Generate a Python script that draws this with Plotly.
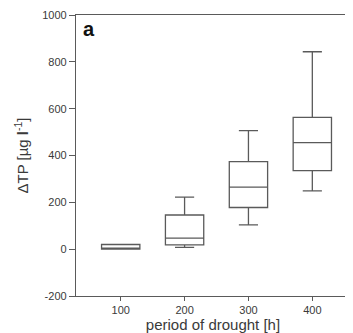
import plotly.graph_objects as go

periods = [100, 200, 300, 400]
lower_whisker = [0, 8, 104, 249]
q1_vals = [0, 18, 178, 335]
medians = [0, 47, 265, 455]
q3_vals = [20, 146, 374, 563]
upper_whisker = [20, 222, 506, 843]

y_ticks = [-200, 0, 200, 400, 600, 800, 1000]
x_ticks = [100, 200, 300, 400]

line_col = "#5a5a5a"
text_col = "#3a3a3a"
font_family = "Liberation Sans, Arial, sans-serif"

fig = go.Figure()
fig.add_trace(go.Box(
    x=periods,
    q1=q1_vals,
    median=medians,
    q3=q3_vals,
    lowerfence=lower_whisker,
    upperfence=upper_whisker,
    width=60,
    whiskerwidth=0.5,
    fillcolor="rgba(255,255,255,0)",
    line=dict(color=line_col, width=1.3),
    boxpoints=False,
    showlegend=False,
    hoverinfo="skip",
))

fig.add_annotation(
    x=0.02, y=0.95, xref="paper", yref="paper",
    text="<b>a</b>", showarrow=False, xanchor="left", yanchor="middle",
    font=dict(size=20, color="#111111", family=font_family),
)

# Page body has a default 8px margin, so the figure is sized/offset to compensate.
fig.update_layout(
    width=345, height=325,
    margin=dict(l=68, r=3, t=7, b=37),
    paper_bgcolor="white", plot_bgcolor="white",
    font=dict(family=font_family, size=11, color=text_col),
    xaxis=dict(
        range=[30, 459],
        tickvals=x_ticks,
        ticktext=[str(v) for v in x_ticks],
        ticks="outside", ticklen=4, tickcolor=line_col, tickwidth=1,
        showline=True, linecolor=line_col, linewidth=1.3, mirror=True,
        showgrid=False, zeroline=False, automargin=False,
        tickfont=dict(size=11, color=text_col),
        title=dict(text="period of drought [h]", standoff=0,
                   font=dict(size=15, color=text_col)),
    ),
    yaxis=dict(
        range=[-200, 1000],
        tickvals=y_ticks,
        ticktext=[str(v) for v in y_ticks],
        ticks="outside", ticklen=6, tickcolor=line_col, tickwidth=1,
        showline=True, linecolor=line_col, linewidth=1.3, mirror=True,
        showgrid=False, zeroline=False, automargin=False,
        tickfont=dict(size=11, color=text_col),
        title=dict(text="ΔTP [µg <b>l</b><sup>-1</sup>]", standoff=9,
                   font=dict(size=15, color=text_col)),
    ),
)

fig.write_html("out.html")
